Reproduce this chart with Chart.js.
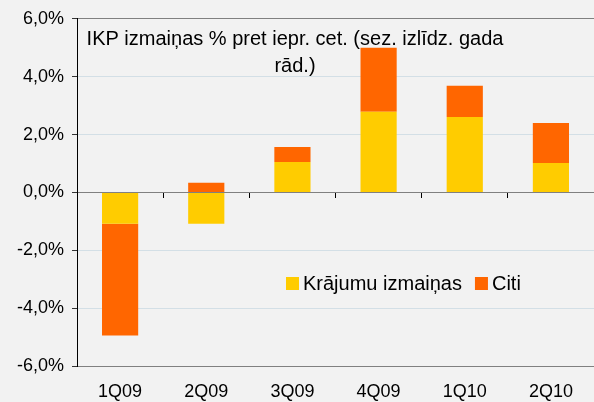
<!DOCTYPE html>
<html>
<head>
<meta charset="utf-8">
<script src="https://cdn.jsdelivr.net/npm/chart.js"></script>
<style>
  html, body { margin: 0; padding: 0; background: #f2f2f2; }
  #wrap { width: 594px; height: 402px; }
  canvas { display: block; background: #f2f2f2; }
</style>
</head>
<body>
<div id="wrap"><canvas id="gdp-chart" width="594" height="402"></canvas></div>
<script>
// Data
const quarters = ['1Q09', '2Q09', '3Q09', '4Q09', '1Q10', '2Q10'];
const inventories = [-1.08, -1.08, 1.05, 2.79, 2.61, 1.02];   // Krājumu izmaiņas
const other = [-3.87, 0.33, 0.52, 2.21, 1.08, 1.38];           // Citi
const yTicks = [-6, -4, -2, 0, 2, 4, 6];
const titleLines = ['IKP izmaiņas % pret iepr. cet. (sez. izlīdz. gada', 'rād.)'];

const FONT = '"Liberation Sans", Arial, sans-serif';
const yellow = '#ffcc00';
const orange = '#ff6600';

// title and legend sit inside the plot area in the original
const insideText = {
  id: 'insideText',
  afterDraw(chart) {
    const c = chart.ctx;
    c.save();
    c.fillStyle = '#000';
    c.font = '20px ' + FONT;
    c.textBaseline = 'alphabetic';
    c.textAlign = 'center';
    c.fillText(titleLines[0], 295, 45);
    c.fillText(titleLines[1], 295, 72);

    c.textAlign = 'left';
    let x = 286;
    chart.data.datasets.forEach(ds => {
      c.fillStyle = ds.backgroundColor;
      c.fillRect(x, 277, 13, 13);
      c.fillStyle = '#000';
      c.fillText(ds.label, x + 17, 290);
      x += 17 + c.measureText(ds.label).width + 13;
    });
    c.restore();
  }
};

const gridColor = ctx => {
  const v = ctx.tick && ctx.tick.value;
  if (v === 0 || v === 6 || v === -6) return '#808080';
  return '#d3dfe6';
};

new Chart(document.getElementById('gdp-chart'), {
  type: 'bar',
  data: {
    labels: quarters,
    datasets: [
      { label: 'Krājumu izmaiņas', data: inventories, backgroundColor: yellow, xAxisID: 'x', yAxisID: 'y' },
      { label: 'Citi', data: other, backgroundColor: orange, xAxisID: 'x', yAxisID: 'y' }
    ]
  },
  options: {
    responsive: false,
    animation: false,
    layout: { padding: { left: 9, top: 17, right: 0, bottom: 0 } },
    datasets: { bar: { categoryPercentage: 1, barPercentage: 0.42 } },
    plugins: {
      legend: { display: false },
      tooltip: { enabled: false }
    },
    scales: {
      x: {
        stacked: true,
        offset: true,
        grid: { offset: true, drawOnChartArea: false, drawTicks: false },
        border: { display: true, color: '#808080' },
        ticks: { color: '#000', padding: 17, font: { family: FONT, size: 18, lineHeight: 1 } },
        afterFit: axis => { axis.height = 36; }
      },
      x2: {
        type: 'category',
        labels: quarters,
        position: { y: 0 },
        offset: true,
        z: 1,
        grid: { offset: true, drawOnChartArea: false, drawTicks: true, tickLength: 5, color: '#000' },
        border: { display: true, color: '#808080' },
        ticks: { display: false }
      },
      y: {
        stacked: true,
        min: yTicks[0],
        max: yTicks[yTicks.length - 1],
        afterBuildTicks: axis => { axis.ticks = yTicks.map(v => ({ value: v })); },
        grid: { color: gridColor, tickColor: '#333', tickLength: 5 },
        border: { display: true, color: '#000' },
        ticks: {
          color: '#000',
          padding: 8,
          font: { family: FONT, size: 18 },
          callback: v => v.toFixed(1).replace('.', ',') + '%'
        }
      }
    }
  },
  plugins: [insideText]
});
</script>
</body>
</html>
